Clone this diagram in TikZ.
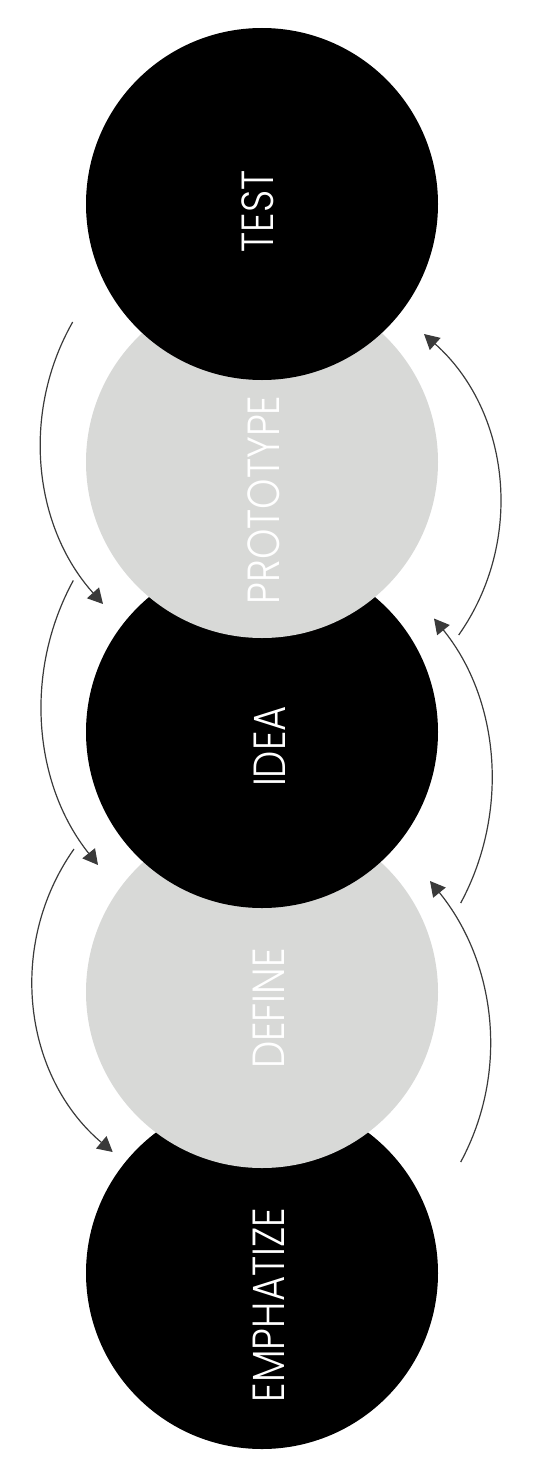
\documentclass[tikz,border=0pt]{standalone}
\usepackage{fontspec}
\usetikzlibrary{arrows.meta}
\IfFontExistsTF{Poppins Light}{\newfontfamily\labfont{Poppins Light}[FakeStretch=0.86]}{\newfontfamily\labfont{Poppins}[FakeStretch=0.86]}
\definecolor{softgray}{HTML}{D8D9D7}
\definecolor{arrowgray}{HTML}{3A3A3A}
\tikzset{
  blackdisc/.style={circle, fill=black, minimum size=352pt, inner sep=0pt},
  graydisc/.style={circle, fill=softgray, minimum size=352pt, inner sep=0pt},
  stagelabel/.style={font=\labfont\fontsize{45}{45}\selectfont, text=white, rotate=90, inner sep=0pt},
  flow/.style={draw=arrowgray, line width=1.2pt, -{Triangle[length=15pt,width=16pt]}},
}
\begin{document}
\begin{tikzpicture}[x=1pt,y=-1pt]
\useasboundingbox (0,0) rectangle (537,1469);
% circles, lower ones first so each upper one overlaps the one below
\node[blackdisc] (emph) at (262,1273) {};
\node[graydisc] (define) at (262,992) {};
\node[blackdisc] (idea) at (262,732) {};
\node[graydisc] (proto) at (262,462) {};
\node[blackdisc] (test) at (262,204) {};
% labels
\node[stagelabel] (testlab) at (257.5,211.5) {TEST};
\node[stagelabel] (protolab) at (263.7,500) {PROTOTYPE};
\node[stagelabel] (idealab) at (269.5,746.5) {IDEA};
\node[stagelabel] (definelab) at (269,1008.5) {DEFINE};
\node[stagelabel] (emphlab) at (269,1305) {EMPHATIZE};
% arrow end points
\coordinate (l1s) at (72.7,322);
\coordinate (l1e) at (103,604);
\coordinate (l2s) at (73.3,580.5);
\coordinate (l2e) at (98,865);
\coordinate (l3s) at (74,849);
\coordinate (l3e) at (112.7,1152);
\coordinate (r1s) at (458.7,635);
\coordinate (r1e) at (424,334);
\coordinate (r2s) at (460.7,903);
\coordinate (r2e) at (434,618.5);
\coordinate (r3s) at (460.7,1162);
\coordinate (r3e) at (430,881);
% left arrows (downwards)
\draw[flow] (l1s) .. controls (21,412.8) and (33.2,526.2) .. (l1e);
\draw[flow] (l2s) .. controls (23.5,671.7) and (33.2,783.8) .. (l2e);
\draw[flow] (l3s) .. controls (6.4,944.8) and (23.2,1076.3) .. (l3e);
% right arrows (upwards)
\draw[flow] (r1s) .. controls (525.2,540.5) and (510.3,410.9) .. (r1e);
\draw[flow] (r2s) .. controls (510,811.6) and (499.5,699.1) .. (r2e);
\draw[flow] (r3s) .. controls (510,1070.6) and (495.5,961.6) .. (r3e);
\end{tikzpicture}
\end{document}
